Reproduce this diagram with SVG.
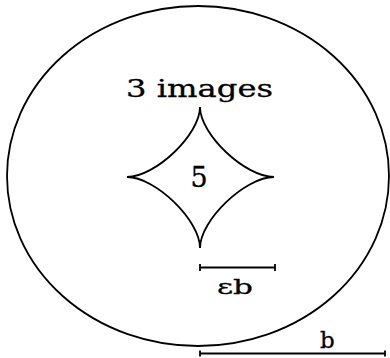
<svg xmlns="http://www.w3.org/2000/svg" width="390" height="358" viewBox="0 0 390 358">
<style>
.ln{fill:none;stroke:#000;stroke-width:1.8}
.t{font-family:"DejaVu Serif","Liberation Serif",serif;fill:#000;stroke:#000;stroke-width:0.3}
</style>
<rect width="390" height="358" fill="#fff"/>
<g id="lens-region">
<ellipse class="ln" cx="198" cy="176" rx="191" ry="170"/>
<text class="t" x="126" y="97" font-size="25" textLength="147" lengthAdjust="spacingAndGlyphs">3 images</text>
</g>
<g id="caustic">
<path class="ln" d="M200,107 C200,134.3 245.1,177 274,177 C245.1,177 200,220.3 200,248 C200,220.3 155.5,177 127,177 C155.5,177 200,134.3 200,107 Z"/>
<text class="t" x="199" y="187" font-size="27" text-anchor="middle">5</text>
</g>
<g id="scale-eb">
<path class="ln" d="M200,267.5 H275 M200,264 V271 M275,264 V271"/>
<text class="t" x="217" y="294" font-size="21" textLength="36" lengthAdjust="spacingAndGlyphs">εb</text>
</g>
<g id="scale-b">
<path class="ln" d="M200,353.5 H385 M200,350.5 V356.5 M385,350.5 V356.5"/>
<text class="t" x="320" y="347.5" font-size="23">b</text>
</g>
</svg>
